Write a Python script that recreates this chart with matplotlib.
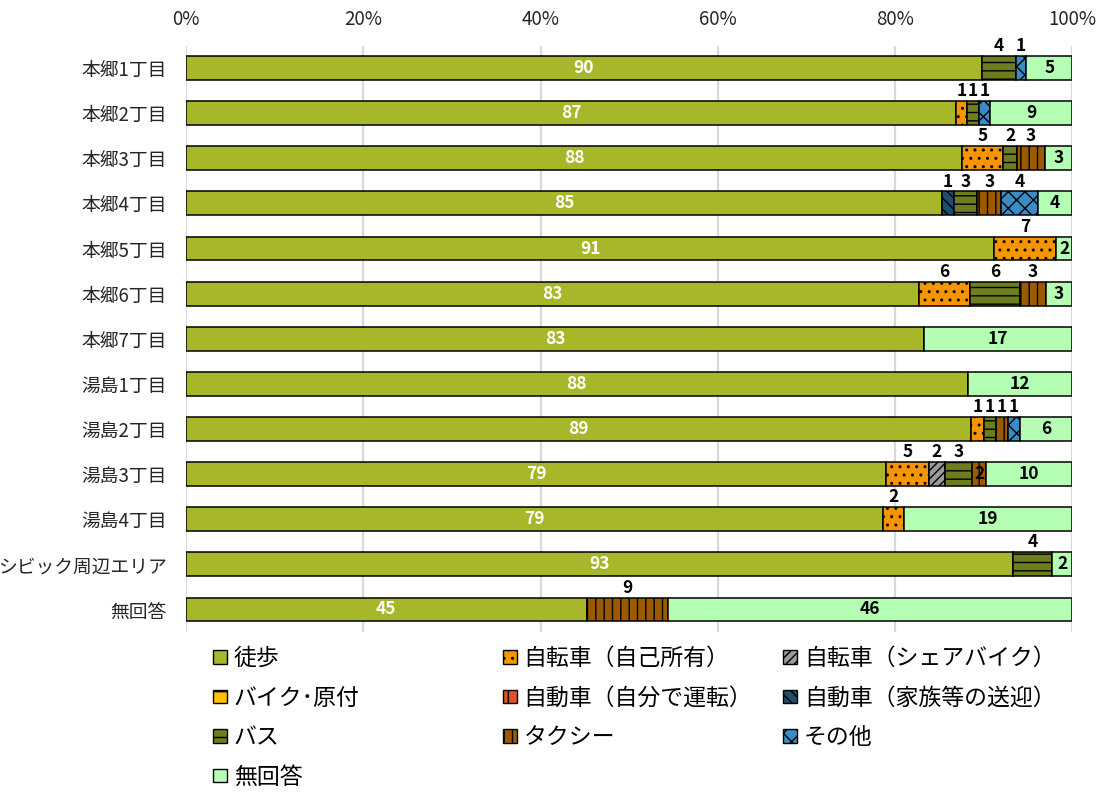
"""
Mode of transport by district: 100% stacked horizontal bars.
"""

import matplotlib
matplotlib.use('Agg')
import matplotlib.pyplot as plt
from matplotlib.patches import Patch
from matplotlib.ticker import MultipleLocator, FuncFormatter
import numpy as np

plt.rcParams['font.family'] = ['Noto Sans CJK JP', 'DejaVu Sans']
plt.rcParams['hatch.linewidth'] = 1.0

AREAS = ['本郷1丁目', '本郷2丁目', '本郷3丁目', '本郷4丁目', '本郷5丁目',
         '本郷6丁目', '本郷7丁目', '湯島1丁目', '湯島2丁目', '湯島3丁目',
         '湯島4丁目', 'シビック周辺エリア', '無回答']

SERIES = ['徒歩', '自転車（自己所有）', '自転車（シェアバイク）', 'バイク･原付',
          '自動車（自分で運転）', '自動車（家族等の送迎）', 'バス', 'タクシー',
          'その他', '無回答']

# percent per area
walk      = [89.8, 86.9, 87.6, 85.3, 91.2, 82.7, 83.3, 88.2, 88.6, 79.0, 78.6, 93.3, 45.2]
bike_own  = [0, 1.2, 4.6, 0, 7.0, 5.7, 0, 0, 1.4, 4.8, 2.4, 0, 0]
bike_share = [0, 0, 0, 0, 0, 0, 0, 0, 0, 1.8, 0, 0, 0]
moped     = [0, 0, 0, 0, 0, 0, 0, 0, 0, 0, 0, 0, 0]
car_self  = [0, 0, 0, 0, 0, 0, 0, 0, 0, 0, 0, 0, 0]
car_ride  = [0, 0, 0, 1.4, 0, 0, 0, 0, 0, 0, 0, 0, 0]
bus       = [3.8, 1.4, 1.6, 2.6, 0, 5.7, 0, 0, 1.4, 3.1, 0, 4.4, 0]
taxi      = [0, 0, 3.1, 2.7, 0, 2.9, 0, 0, 1.3, 1.6, 0, 0, 9.2]
other     = [1.2, 1.2, 0, 4.1, 0, 0, 0, 0, 1.4, 0, 0, 0, 0]
no_answer = [5.2, 9.3, 3.1, 3.9, 1.8, 3.0, 16.7, 11.8, 5.9, 9.7, 19.0, 2.3, 45.6]

VALUES = [walk, bike_own, bike_share, moped, car_self, car_ride, bus, taxi,
          other, no_answer]

COLORS = ['#A8B72A', '#F79500', '#9A9A9A', '#FFC000', '#E0522A', '#1F4E6E',
          '#6E7D1E', '#9C5A00', '#3A8CC4', '#B4FFB4']
HATCHES = ['', '..', '////', '-', '|', '\\\\\\', '--', '||', 'xx', '']

# labels drawn inside the segment instead of above it: (area, series)
INSIDE = {(9, 7)}


def main():
    fig, ax = plt.subplots(figsize=(11.03, 7.93), dpi=100)
    fig.subplots_adjust(left=0.1686, right=0.9722, top=0.9426, bottom=0.2030)

    y = np.arange(len(AREAS))
    data = np.array(VALUES, dtype=float)
    data = data / data.sum(axis=0) * 100
    left = np.zeros(len(AREAS))
    height = 0.53

    for k, (name, vals) in enumerate(zip(SERIES, data)):
        ax.barh(y, vals, left=left, height=height, color=COLORS[k],
                edgecolor='black', linewidth=1.1, hatch=HATCHES[k], zorder=3)
        for i, v in enumerate(vals):
            if v <= 0:
                continue
            cx = left[i] + v / 2
            txt = f'{VALUES[k][i]:.0f}'
            if k == 0:
                ax.text(cx, y[i], txt, ha='center', va='center', color='white',
                        fontsize=12.5, fontweight='bold', zorder=5)
            elif k == len(SERIES) - 1 or (i, k) in INSIDE:
                ax.text(cx, y[i], txt, ha='center', va='center', color='black',
                        fontsize=12.5, fontweight='bold', zorder=5)
            else:
                ax.text(cx, y[i] - height / 2 - 0.02, txt, ha='center',
                        va='bottom', color='black', fontsize=12.5,
                        fontweight='bold', zorder=5)
        left += vals

    ax.set_xlim(0, 100)
    ax.set_ylim(len(AREAS) - 0.5, -0.5)
    ax.set_yticks(y)
    ax.set_yticklabels(AREAS, fontsize=13.5)
    ax.xaxis.set_major_locator(MultipleLocator(20))
    ax.xaxis.set_major_formatter(FuncFormatter(lambda v, _: f'{v:.0f}%'))
    ax.xaxis.tick_top()
    ax.tick_params(axis='x', length=0, pad=11, labelsize=13.5, colors='#262626')
    ax.tick_params(axis='y', length=0, pad=14, colors='#262626')
    ax.grid(axis='x', color='#D9D9D9', linewidth=1.6, zorder=0)
    for s in ax.spines.values():
        s.set_visible(False)

    handles = [Patch(facecolor=c, edgecolor='black', hatch=h, linewidth=1.0)
               for c, h in zip(COLORS, HATCHES)]
    columns = [[0, 3, 6, 9], [1, 4, 7], [2, 5, 8]]
    col_x = [0.1931, 0.456, 0.710]
    for idx, x0 in zip(columns, col_x):
        fig.legend([handles[j] for j in idx], [SERIES[j] for j in idx],
                   loc='upper left', bbox_to_anchor=(x0, 0.184), ncol=1,
                   frameon=False, fontsize=16.5, borderpad=0, borderaxespad=0,
                   handlelength=0.6, handleheight=0.55, handletextpad=0.3,
                   labelspacing=0.72)

    fig.savefig('out.png', dpi=100)
    plt.close()


if __name__ == '__main__':
    main()
